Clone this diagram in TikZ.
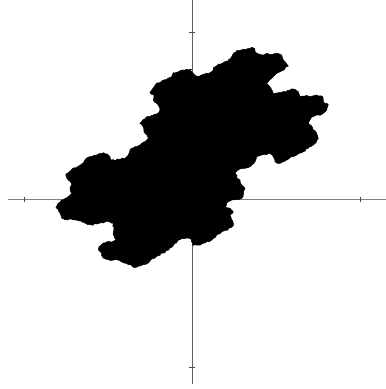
\documentclass[tikz,border=0pt]{standalone}
\usetikzlibrary{decorations.pathmorphing}
\begin{document}
\pgfmathsetseed{17}
\begin{tikzpicture}[x=1pt,y=-1pt,
  axis/.style={draw=black!50,line width=0.9pt},
  tick/.style={draw=black!70,line width=0.9pt},
  tile/.style={fill=black,draw=black,line width=0.5pt,line join=miter,
    decorate,decoration={random steps,segment length=2.2pt,amplitude=0.9pt}}]
\useasboundingbox (0,0) rectangle (386,389);
% axes
\coordinate (xl) at (8,199.5);
\coordinate (xr) at (386,199.5);
\coordinate (yt) at (192.3,0);
\coordinate (yb) at (192.3,383.5);
\draw[axis] (xl) -- (xr);
\draw[axis,draw=black!62] (yt) -- (yb);
% ticks
\draw[tick] (24.3,196.8) -- (24.3,202.2);
\draw[tick] (360.7,196.8) -- (360.7,202.2);
\draw[tick] (189.3,32.3) -- (195.3,32.3);
\draw[tick] (189.3,367.3) -- (195.3,367.3);
% fractal tile
\path[tile] (190,70) -- (191.7,71.7) -- (193.3,73.3) -- (196.7,76) -- (201.7,75) -- (206.7,73.3) -- (211.7,71.7) -- (215,66.7) -- (218.3,64) -- (223.3,62.7) -- (228.3,60) -- (231.7,56.7) -- (233.3,53.3) -- (238.3,50.7) -- (243.3,49.3) -- (248.3,48.3) -- (251.7,47.3) -- (255,49.3) -- (256.7,53.3) -- (261.7,55) -- (266.7,53.3) -- (273.3,54) -- (278.3,53.3) -- (281.7,55) -- (283.3,60) -- (286.7,64) -- (288.3,66) -- (285,68.3) -- (280,71.7) -- (276.7,73.3) -- (273.3,76.7) -- (268.3,81.7) -- (266.7,83.3) -- (270,86.7) -- (271.7,90) -- (273.3,93.3) -- (278.3,92.7) -- (283.3,91.7) -- (290,90) -- (295,89.3) -- (298.3,91.7) -- (300,96.7) -- (305,96) -- (310,96.7) -- (316.7,95) -- (321.7,96) -- (323.3,100) -- (325,103.3) -- (328.3,105) -- (326.7,110) -- (323.3,113.3) -- (318.3,115) -- (313.3,116.7) -- (310,120) -- (308.3,123.3) -- (311.7,126) -- (313.3,130) -- (316.7,133.3) -- (318.3,138.3)
 -- (316.7,141.7) -- (313.3,145) -- (308.3,148.3) -- (303.3,151.7) -- (296.7,155) -- (291.7,156.7) -- (286.7,160) -- (280,163.3) -- (275,161.7) -- (273.3,156.7) -- (270,153.3) -- (261.7,155) -- (256.7,156.7) -- (255,161.7) -- (250,166.7) -- (245,168.3) -- (238.3,170) -- (235,173.3) -- (236.7,176.7) -- (240,180) -- (241.7,185) -- (245,188.3) -- (243.3,193.3) -- (241.7,198.3) -- (236.7,199.3) -- (231.7,200) -- (226.7,203.3) -- (225,206.7) -- (230,208.3) -- (233.3,211.7) -- (230,215) -- (231.7,220) -- (233.3,223.3) -- (231.7,227.3) -- (226.7,230) -- (221.7,231.7) -- (216.7,235) -- (211.7,240) -- (206.7,241.7) -- (201.7,244) -- (196.7,245) -- (193,245.5)
 -- (191.7,239.7) -- (186.7,238) -- (180,239.7) -- (175,243) -- (170,248) -- (163.3,253) -- (156.7,256.3) -- (150,261.3) -- (143.3,264.7) -- (138.3,266.3) -- (133.3,267.3) -- (128.3,264.7) -- (121.7,262) -- (115,259.7) -- (108.3,259.7) -- (103.3,258) -- (101.7,253) -- (98.3,249.7) -- (100,246.3) -- (103.3,243) -- (108.3,241.3) -- (113.3,241.3) -- (116.7,239.7) -- (113.3,234.7) -- (114,229.7) -- (113.3,223) -- (108.3,221.3) -- (103.3,223) -- (96.7,224) -- (90,224.7) -- (85,223) -- (81.7,221.3) -- (75,219.7) -- (70,218.7) -- (65,219.7) -- (61.7,218) -- (60,213) -- (58.3,209.7) -- (56,207.3) -- (58.3,203) -- (63.3,199.7) -- (68.3,196.3) -- (71.7,193) -- (70,189.7) -- (71.7,184.7) -- (70,181.3) -- (66.7,178) -- (66,174) -- (70,171.3) -- (73.3,168) -- (78.3,166.3) -- (83.3,163) -- (86.7,158)
 -- (90,156.7) -- (95,155) -- (100,153.3) -- (103.3,152.7) -- (107.3,154) -- (110,156.7) -- (111.7,160) -- (115,160.7) -- (120,159.3) -- (125,158.3) -- (128.3,155) -- (130,150) -- (135,146.7) -- (140,145) -- (145,141.7) -- (148.3,138.3) -- (146.7,135) -- (144,131.7) -- (143.3,127.3) -- (140,123.3) -- (142.7,120) -- (146.7,116.7) -- (153.3,115) -- (156.7,114) -- (160,110) -- (158.3,105) -- (156,102.7) -- (153.3,100) -- (154,95) -- (150,92.7) -- (151.7,90) -- (156,84) -- (160,82.7) -- (166.7,79.3) -- (171.7,76.7) -- (173.3,72.7) -- (180,70.7) -- (186.7,69.3) -- (191.7,69.3) -- cycle;
\end{tikzpicture}
\end{document}
